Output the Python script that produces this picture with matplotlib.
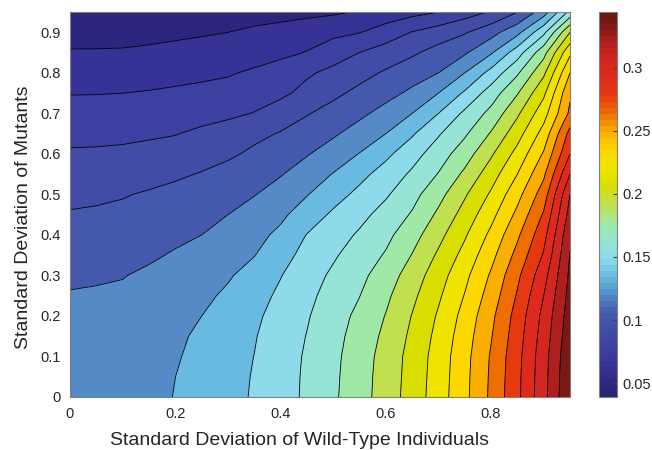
import numpy as np
import matplotlib
matplotlib.use('Agg')
import matplotlib.pyplot as plt
from matplotlib.colors import LinearSegmentedColormap, Normalize
import matplotlib.cm as cm

plt.rcParams['font.family'] = ['Liberation Sans', 'DejaVu Sans']

# grid of the two standard deviations
sd_wild = [0.00, 0.05, 0.10, 0.15, 0.20, 0.25, 0.30, 0.35, 0.40, 0.45,
           0.50, 0.55, 0.60, 0.65, 0.70, 0.75, 0.80, 0.85, 0.90, 0.95]
sd_mut = [0.00, 0.05, 0.10, 0.15, 0.20, 0.25, 0.30, 0.35, 0.40, 0.45,
          0.50, 0.55, 0.60, 0.65, 0.70, 0.75, 0.80, 0.85, 0.90, 0.95]

# values, one row per sd_mut
row_000 = [0.1181, 0.1189, 0.1203, 0.1225, 0.1266, 0.1315, 0.1366, 0.1419, 0.1495, 0.1575,
           0.1674, 0.1784, 0.1909, 0.2050, 0.2208, 0.2387, 0.2596, 0.2826, 0.3104, 0.3432]
row_005 = [0.1177, 0.1183, 0.1196, 0.1216, 0.1261, 0.1312, 0.1361, 0.1415, 0.1492, 0.1573,
           0.1669, 0.1780, 0.1904, 0.2044, 0.2202, 0.2382, 0.2591, 0.2821, 0.3097, 0.3425]
row_010 = [0.1171, 0.1177, 0.1189, 0.1207, 0.1247, 0.1306, 0.1357, 0.1408, 0.1486, 0.1568,
           0.1663, 0.1772, 0.1897, 0.2038, 0.2195, 0.2375, 0.2583, 0.2813, 0.3091, 0.3410]
row_015 = [0.1162, 0.1168, 0.1178, 0.1196, 0.1232, 0.1290, 0.1344, 0.1398, 0.1475, 0.1556,
           0.1650, 0.1755, 0.1875, 0.2018, 0.2175, 0.2355, 0.2559, 0.2793, 0.3070, 0.3388]
row_020 = [0.1152, 0.1160, 0.1167, 0.1181, 0.1210, 0.1261, 0.1321, 0.1382, 0.1456, 0.1540,
           0.1631, 0.1732, 0.1848, 0.1993, 0.2150, 0.2327, 0.2533, 0.2771, 0.3046, 0.3367]
row_025 = [0.1125, 0.1131, 0.1141, 0.1160, 0.1189, 0.1232, 0.1284, 0.1356, 0.1431, 0.1518,
           0.1605, 0.1694, 0.1813, 0.1955, 0.2111, 0.2285, 0.2488, 0.2728, 0.3004, 0.3345]
row_030 = [0.1094, 0.1101, 0.1110, 0.1142, 0.1177, 0.1212, 0.1247, 0.1313, 0.1401, 0.1489,
           0.1576, 0.1660, 0.1769, 0.1910, 0.2069, 0.2241, 0.2442, 0.2683, 0.2950, 0.3323]
row_035 = [0.1055, 0.1061, 0.1074, 0.1094, 0.1131, 0.1173, 0.1215, 0.1257, 0.1356, 0.1450,
           0.1534, 0.1620, 0.1710, 0.1848, 0.2010, 0.2180, 0.2378, 0.2614, 0.2874, 0.3301]
row_040 = [0.1019, 0.1025, 0.1038, 0.1055, 0.1084, 0.1116, 0.1168, 0.1221, 0.1290, 0.1411,
           0.1489, 0.1570, 0.1660, 0.1784, 0.1944, 0.2115, 0.2312, 0.2543, 0.2810, 0.3265]
row_045 = [0.0982, 0.0990, 0.1001, 0.1016, 0.1040, 0.1070, 0.1116, 0.1176, 0.1235, 0.1327,
           0.1431, 0.1511, 0.1604, 0.1711, 0.1870, 0.2044, 0.2233, 0.2459, 0.2731, 0.3205]
row_050 = [0.0937, 0.0946, 0.0962, 0.0985, 0.1016, 0.1048, 0.1078, 0.1110, 0.1177, 0.1254,
           0.1348, 0.1443, 0.1534, 0.1649, 0.1794, 0.1970, 0.2153, 0.2375, 0.2641, 0.3149]
row_055 = [0.0889, 0.0895, 0.0907, 0.0923, 0.0946, 0.0980, 0.1022, 0.1065, 0.1107, 0.1183,
           0.1267, 0.1364, 0.1466, 0.1575, 0.1704, 0.1872, 0.2066, 0.2278, 0.2542, 0.3004]
row_060 = [0.0842, 0.0844, 0.0852, 0.0865, 0.0882, 0.0910, 0.0946, 0.0998, 0.1052, 0.1106,
           0.1181, 0.1266, 0.1374, 0.1495, 0.1626, 0.1774, 0.1967, 0.2180, 0.2439, 0.2858]
row_065 = [0.0788, 0.0791, 0.0795, 0.0807, 0.0820, 0.0853, 0.0894, 0.0936, 0.0980, 0.1038,
           0.1097, 0.1174, 0.1261, 0.1389, 0.1537, 0.1675, 0.1855, 0.2074, 0.2333, 0.2761]
row_070 = [0.0731, 0.0734, 0.0738, 0.0749, 0.0760, 0.0776, 0.0794, 0.0831, 0.0897, 0.0961,
           0.1023, 0.1086, 0.1164, 0.1261, 0.1406, 0.1581, 0.1739, 0.1963, 0.2220, 0.2597]
row_075 = [0.0675, 0.0676, 0.0680, 0.0689, 0.0701, 0.0715, 0.0731, 0.0757, 0.0795, 0.0868,
           0.0939, 0.1006, 0.1070, 0.1145, 0.1261, 0.1427, 0.1621, 0.1832, 0.2103, 0.2546]
row_080 = [0.0611, 0.0612, 0.0615, 0.0625, 0.0638, 0.0651, 0.0667, 0.0701, 0.0753, 0.0805,
           0.0863, 0.0924, 0.0988, 0.1052, 0.1116, 0.1261, 0.1454, 0.1676, 0.1958, 0.2423]
row_085 = [0.0547, 0.0547, 0.0550, 0.0560, 0.0573, 0.0586, 0.0601, 0.0618, 0.0643, 0.0686,
           0.0756, 0.0826, 0.0888, 0.0949, 0.1022, 0.1097, 0.1244, 0.1482, 0.1791, 0.2249]
row_090 = [0.0481, 0.0483, 0.0484, 0.0495, 0.0508, 0.0521, 0.0535, 0.0563, 0.0590, 0.0619,
           0.0647, 0.0675, 0.0749, 0.0831, 0.0895, 0.0958, 0.1061, 0.1219, 0.1515, 0.1987]
row_095 = [0.0405, 0.0407, 0.0412, 0.0422, 0.0436, 0.0450, 0.0463, 0.0471, 0.0480, 0.0497,
           0.0515, 0.0545, 0.0590, 0.0635, 0.0680, 0.0757, 0.0840, 0.0968, 0.1189, 0.1595]

z_min, z_max = 0.039, 0.344
n_lines = 20

# colour of each filled band, dark blue to dark red
band_rgb = [(42, 34, 118), (45, 38, 127), (54, 50, 150), (60, 64, 160), (64, 76, 166),
            (68, 90, 173), (84, 137, 198), (104, 186, 224), (140, 218, 234), (150, 228, 214),
            (160, 232, 165), (192, 224, 82), (215, 222, 0), (238, 228, 0), (252, 215, 0),
            (250, 175, 0), (238, 110, 0), (230, 58, 15), (222, 42, 28), (212, 38, 32),
            (175, 32, 30), (120, 25, 20), (110, 22, 18)]
band_pos = [0.0] + [(b + 0.5) / 21 for b in range(21)] + [1.0]
cmap = LinearSegmentedColormap.from_list(
    'bands', [(p, tuple(c / 255 for c in rgb)) for p, rgb in zip(band_pos, band_rgb)])
norm = Normalize(vmin=z_min, vmax=z_max)

Z = np.array([row_000, row_005, row_010, row_015, row_020, row_025, row_030,
              row_035, row_040, row_045, row_050, row_055, row_060, row_065,
              row_070, row_075, row_080, row_085, row_090, row_095])
X, Y = np.meshgrid(sd_wild, sd_mut)
levels = np.linspace(z_min, z_max, n_lines + 2)

fig = plt.figure(figsize=(6.52, 4.5), dpi=100)
ax = fig.add_axes([70 / 652, 53 / 450, 500 / 652, 385 / 450])
ax.contourf(X, Y, Z, levels=levels, cmap=cmap, norm=norm)
ax.contour(X, Y, Z, levels=levels[1:-1], colors='k', linewidths=0.6)

ax.set_xlim(0, 0.95)
ax.set_ylim(0, 0.95)
ax.set_xticks([0, 0.2, 0.4, 0.6, 0.8])
ax.set_xticklabels(['0', '0.2', '0.4', '0.6', '0.8'])
ax.set_yticks([0, 0.1, 0.2, 0.3, 0.4, 0.5, 0.6, 0.7, 0.8, 0.9])
ax.set_yticklabels(['0', '0.1', '0.2', '0.3', '0.4', '0.5', '0.6', '0.7', '0.8', '0.9'])
ax.tick_params(length=0, pad=7, labelsize=10.5, labelcolor='#262626')
for s in ax.spines.values():
    s.set_color('#808080')
    s.set_linewidth(0.8)
ax.set_xlabel('Standard Deviation of Wild-Type Individuals', fontsize=14, color='#262626')
ax.set_ylabel('Standard Deviation of Mutants', fontsize=14, color='#262626')
ax.xaxis.set_label_coords(0.46, -0.09)
ax.yaxis.set_label_coords(-0.076, 0.468)

# colorbar with 64 steps like the original
cax = fig.add_axes([599 / 652, 53 / 450, 18 / 652, 385 / 450])
sm = cm.ScalarMappable(norm=norm, cmap=cmap.resampled(64))
cb = fig.colorbar(sm, cax=cax)
cb.set_ticks([0.05, 0.1, 0.15, 0.2, 0.25, 0.3])
cb.set_ticklabels(['0.05', '0.1', '0.15', '0.2', '0.25', '0.3'])
cb.outline.set_edgecolor('#808080')
cb.outline.set_linewidth(0.8)
cax.tick_params(direction='in', length=3, width=0.8, color='#404040',
                labelsize=10.5, labelcolor='#262626', pad=4)

fig.savefig('out.png', dpi=100)
